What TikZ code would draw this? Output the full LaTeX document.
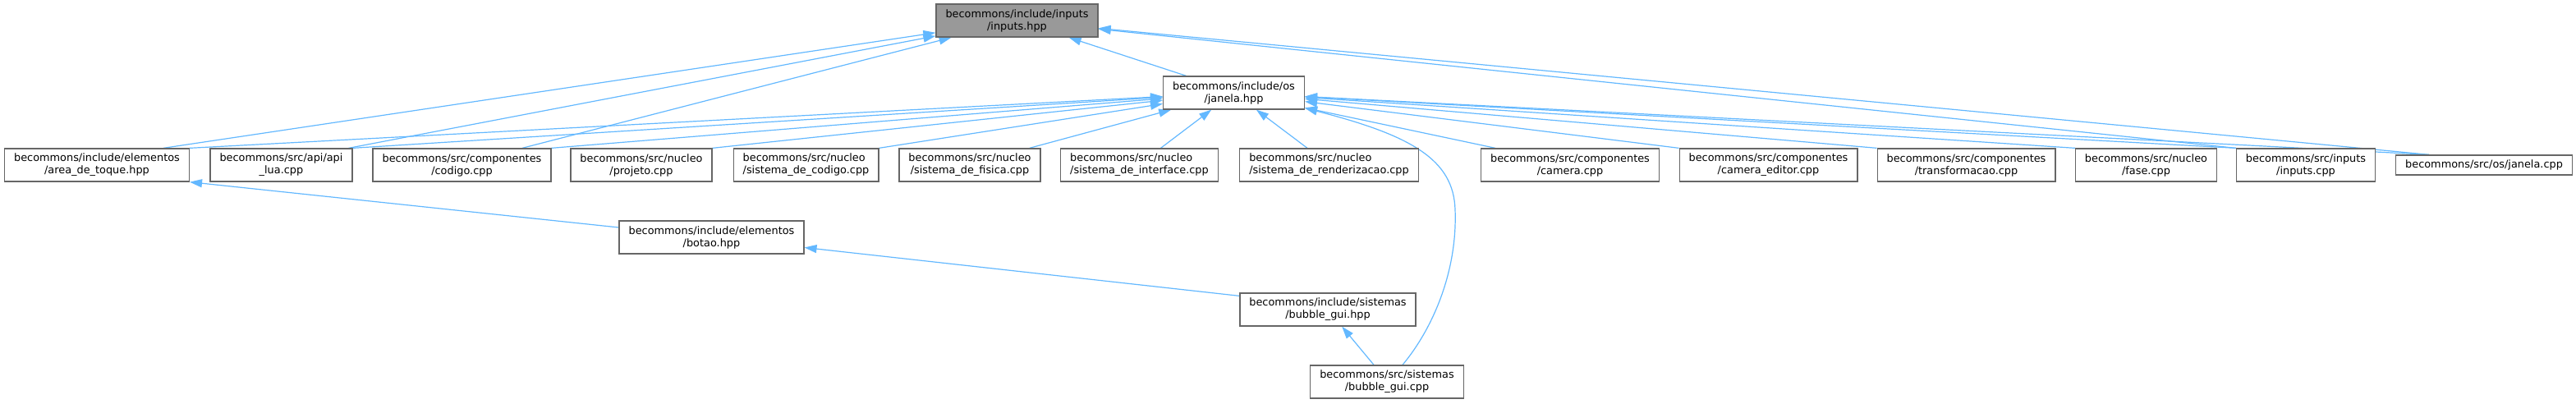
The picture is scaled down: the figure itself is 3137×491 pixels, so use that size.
\documentclass[tikz,border=0pt]{standalone}
\usepackage{fontspec}
\setmainfont{DejaVu Sans}
\usetikzlibrary{arrows.meta,backgrounds}
\definecolor{edgec}{HTML}{63B8FF}
\definecolor{nodeborder}{HTML}{666666}
\definecolor{rootfill}{HTML}{999999}
\begin{document}
\begin{tikzpicture}[x=1pt,y=-1pt,
  filebox/.style={draw=nodeborder, line width=1.3pt, fill=white, inner xsep=11.5pt, inner ysep=0pt,
    minimum height=40pt, align=center, font=\fontsize{12.87}{15}\selectfont},
  rootbox/.style={filebox, fill=rootfill},
  dep/.style={draw=edgec, line width=1.2pt, -{Triangle[length=15pt,width=10pt]}}]
\useasboundingbox (0,0) rectangle (3137,491);
% nodes
\node[rootbox] (inh) at (1238.5,25) {becommons/include/inputs\\/inputs.hpp};
\node[filebox] (jh) at (1502.5,113) {becommons/include/os\\/janela.hpp};
\node[filebox] (area) at (118,201) {becommons/include/elementos\\/area\_de\_toque.hpp};
\node[filebox] (api) at (342.5,201) {becommons/src/api/api\\\_lua.cpp};
\node[filebox] (cod) at (562.5,201) {becommons/src/componentes\\/codigo.cpp};
\node[filebox] (proj) at (781,201) {becommons/src/nucleo\\/projeto.cpp};
\node[filebox,align=left] (scod) at (981.5,201) {becommons/src/nucleo\\/sistema\_de\_codigo.cpp};
\node[filebox] (sfis) at (1181,201) {becommons/src/nucleo\\/sistema\_de\_fisica.cpp};
\node[filebox,align=left] (sint) at (1387.5,201) {becommons/src/nucleo\\/sistema\_de\_interface.cpp};
\node[filebox,align=left] (sren) at (1618.5,201) {becommons/src/nucleo\\/sistema\_de\_renderizacao.cpp};
\node[filebox] (cam) at (1912,201) {becommons/src/componentes\\/camera.cpp};
\node[filebox] (camed) at (2153.5,201) {becommons/src/componentes\\/camera\_editor.cpp};
\node[filebox] (trf) at (2394.5,201) {becommons/src/componentes\\/transformacao.cpp};
\node[filebox] (fase) at (2613.5,201) {becommons/src/nucleo\\/fase.cpp};
\node[filebox] (incpp) at (2808,201) {becommons/src/inputs\\/inputs.cpp};
\node[filebox,minimum height=24pt] (jcpp) at (3025,201) {becommons/src/os/janela.cpp};
\node[filebox] (botao) at (866.5,289) {becommons/include/elementos\\/botao.hpp};
\node[filebox] (bgh) at (1617,377) {becommons/include/sistemas\\/bubble\_gui.hpp};
\node[filebox] (bgc) at (1689,465) {becommons/src/sistemas\\/bubble\_gui.cpp};
% edges
\begin{pgfonlayer}{background}
% to inputs.hpp
\draw[dep] ([xshift=-58pt]jh.north) -- (inh);
\draw[dep] ([xshift=81pt]area.north) -- (inh);
\draw[dep] ([xshift=-5pt]api.north east) -- (inh);
\draw[dep] ([xshift=73.5pt]cod.north) -- (inh);
\draw[dep] (incpp.north west) -- (inh);
\draw[dep] ([xshift=-67pt]jcpp.north) -- (inh);
% to janela.hpp
\draw[dep] (area.north east) -- (jh);
\draw[dep] (api.north east) -- (jh);
\draw[dep] (cod.north east) -- (jh);
\draw[dep] (proj.north east) -- (jh);
\draw[dep] (scod.north east) -- (jh);
\draw[dep] ([xshift=-14pt]sfis.north east) -- (jh);
\draw[dep] ([xshift=26pt]sint.north) -- (jh);
\draw[dep] ([xshift=-26.5pt]sren.north) -- (jh);
\draw[dep] ([xshift=18pt]cam.north west) -- (jh);
\draw[dep] (camed.north west) -- (jh);
\draw[dep] (trf.north west) -- (jh);
\draw[dep] (fase.north west) -- (jh);
\draw[dep] (incpp.north west) -- (jh);
\draw[dep] ([xshift=-67pt]jcpp.north) -- (jh);
\draw[dep] ([xshift=19pt]bgc.north) .. controls (1745,400) and (1775,330) .. (1772,255)
  .. controls (1770,195) and (1720,165) .. ([yshift=2pt]jh.south east);
% lower chain
\draw[dep] ([yshift=12pt]botao.west) -- (area.south east);
\draw[dep] ([yshift=-4pt]bgh.north west) -- (botao);
\draw[dep] ([xshift=-16pt]bgc.north) -- (bgh);
\end{pgfonlayer}
\end{tikzpicture}
\end{document}
